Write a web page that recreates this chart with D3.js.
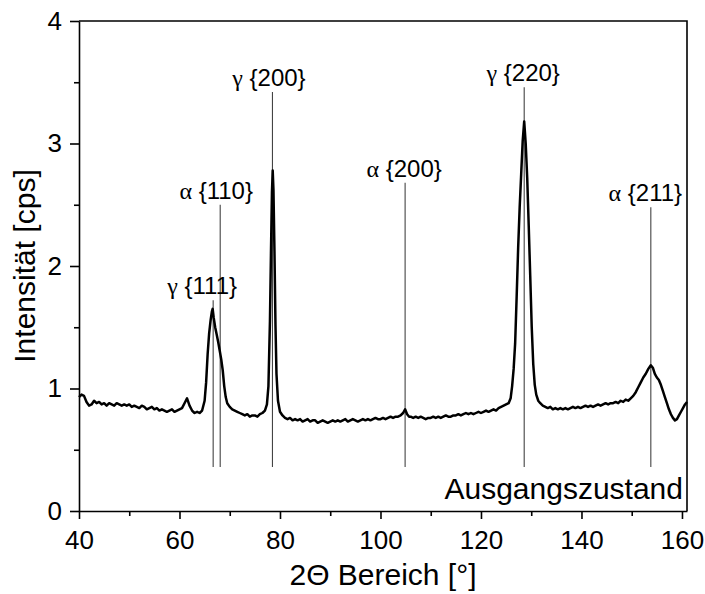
<!DOCTYPE html>
<html>
<head>
<meta charset="utf-8">
<script src="https://cdn.jsdelivr.net/npm/d3@7"></script>
<style>
  body { margin: 0; background: #fff; }
  svg text { font-family: "Liberation Sans", Arial, sans-serif; fill: #000; }
</style>
</head>
<body>
<svg id="chart" width="705" height="594"></svg>
<script>
"use strict";

// 2theta (deg) and intensity (cps)
let twoTheta = [
  40.0, 40.5, 41.0, 41.5, 42.0, 42.5, 43.0, 43.5, 44.0, 44.5, 45.0, 45.5, 46.0, 46.5, 47.0, 47.5,
  48.0, 48.5, 49.0, 49.5, 50.0, 50.5, 51.0, 51.5, 52.0, 52.5, 53.0, 53.5, 54.0, 54.5, 55.0, 55.5,
  56.0, 56.5, 57.0, 57.5, 58.0, 58.5, 59.0, 59.5, 60.0, 60.5, 61.0, 61.5, 62.0, 62.5, 63.0, 63.5,
  64.0, 64.5, 65.0, 65.3, 65.6, 65.9, 66.2, 66.45, 66.6, 66.8, 67.1, 67.4, 67.7, 68.0, 68.3, 68.6,
  68.9, 69.2, 69.5, 70.0, 70.5, 71.0, 71.5, 72.0, 72.5, 73.0, 73.5, 74.0, 74.5, 75.0, 75.5, 76.0,
  76.5, 77.0, 77.4, 77.7, 78.0, 78.2, 78.4, 78.55, 78.7, 78.9, 79.1, 79.3, 79.6, 80.0, 80.5, 81.0,
  81.5, 82.0, 82.5, 83.0, 83.5, 84.0, 84.5, 85.0, 85.5, 86.0, 86.5, 87.0, 87.5, 88.0, 88.5, 89.0,
  89.5, 90.0, 90.5, 91.0, 91.5, 92.0, 92.5, 93.0, 93.5, 94.0, 94.5, 95.0, 95.5, 96.0, 96.5, 97.0,
  97.5, 98.0, 98.5, 99.0, 99.5, 100.0, 100.5, 101.0, 101.5, 102.0, 102.5, 103.0, 103.5, 104.0, 104.5, 104.9,
  105.3, 105.7, 106.0, 106.5, 107.0, 107.5, 108.0, 108.5, 109.0, 109.5, 110.0, 110.5, 111.0, 111.5, 112.0, 112.5,
  113.0, 113.5, 114.0, 114.5, 115.0, 115.5, 116.0, 116.5, 117.0, 117.5, 118.0, 118.5, 119.0, 119.5, 120.0, 120.5,
  121.0, 121.5, 122.0, 122.5, 123.0, 123.5, 124.0, 124.5, 125.0, 125.5, 125.9, 126.2, 126.5, 126.8, 127.1, 127.4,
  127.7, 128.0, 128.3, 128.6, 128.9, 129.2, 129.5, 129.8, 130.1, 130.4, 130.7, 131.0, 131.4, 131.8, 132.3, 132.8,
  133.3, 133.8, 134.3, 134.8, 135.3, 135.8, 136.3, 136.8, 137.3, 137.8, 138.3, 138.8, 139.3, 139.8, 140.3, 140.8,
  141.3, 141.8, 142.3, 142.8, 143.3, 143.8, 144.3, 144.8, 145.3, 145.8, 146.3, 146.8, 147.3, 147.8, 148.3, 148.8,
  149.3, 149.8, 150.3, 150.8, 151.3, 151.8, 152.3, 152.8, 153.3, 153.8, 154.2, 154.6, 155.0, 155.4, 155.8, 156.2,
  156.6, 157.0, 157.4, 157.8, 158.2, 158.6, 159.0, 159.4, 159.8, 160.2, 160.6, 161.0
];

let intensity = [
  0.93, 0.95, 0.94, 0.89, 0.86, 0.87, 0.90, 0.88, 0.89, 0.87, 0.88, 0.86, 0.88, 0.87, 0.86, 0.88,
  0.87, 0.86, 0.87, 0.86, 0.87, 0.85, 0.86, 0.85, 0.84, 0.86, 0.85, 0.83, 0.84, 0.85, 0.83, 0.84,
  0.82, 0.83, 0.82, 0.81, 0.82, 0.83, 0.81, 0.82, 0.83, 0.84, 0.88, 0.92, 0.86, 0.82, 0.80, 0.81,
  0.80, 0.82, 0.90, 1.05, 1.28, 1.45, 1.56, 1.63, 1.65, 1.58, 1.50, 1.44, 1.38, 1.31, 1.24, 1.15,
  1.02, 0.93, 0.88, 0.85, 0.83, 0.82, 0.81, 0.80, 0.79, 0.78, 0.79, 0.77, 0.78, 0.78, 0.77, 0.79,
  0.80, 0.82, 0.87, 1.02, 1.55, 2.10, 2.60, 2.78, 2.62, 2.12, 1.52, 1.12, 0.90, 0.81, 0.78, 0.76,
  0.75, 0.76, 0.74, 0.75, 0.74, 0.75, 0.73, 0.74, 0.75, 0.73, 0.74, 0.74, 0.72, 0.73, 0.74, 0.73,
  0.72, 0.73, 0.74, 0.73, 0.74, 0.73, 0.74, 0.75, 0.73, 0.74, 0.75, 0.74, 0.73, 0.74, 0.75, 0.74,
  0.75, 0.74, 0.75, 0.76, 0.75, 0.75, 0.76, 0.75, 0.76, 0.77, 0.76, 0.77, 0.77, 0.78, 0.80, 0.83,
  0.79, 0.77, 0.77, 0.76, 0.77, 0.76, 0.77, 0.76, 0.75, 0.76, 0.76, 0.77, 0.76, 0.77, 0.76, 0.77,
  0.78, 0.77, 0.77, 0.78, 0.78, 0.79, 0.78, 0.79, 0.80, 0.79, 0.80, 0.79, 0.80, 0.81, 0.80, 0.81,
  0.82, 0.81, 0.82, 0.83, 0.82, 0.84, 0.85, 0.86, 0.87, 0.88, 0.92, 1.02, 1.16, 1.37, 1.75, 2.15,
  2.48, 2.75, 3.02, 3.18, 3.00, 2.72, 2.33, 1.92, 1.50, 1.20, 1.03, 0.95, 0.90, 0.88, 0.86, 0.85,
  0.84, 0.85, 0.83, 0.84, 0.83, 0.84, 0.83, 0.84, 0.83, 0.84, 0.85, 0.84, 0.85, 0.84, 0.85, 0.86,
  0.85, 0.86, 0.85, 0.86, 0.87, 0.86, 0.87, 0.88, 0.87, 0.88, 0.88, 0.89, 0.88, 0.90, 0.89, 0.91,
  0.90, 0.92, 0.94, 0.97, 1.01, 1.05, 1.09, 1.12, 1.16, 1.19, 1.17, 1.12, 1.09, 1.07, 1.03, 0.98,
  0.93, 0.88, 0.83, 0.79, 0.76, 0.74, 0.75, 0.78, 0.81, 0.84, 0.87, 0.89
];

// reflection markers: phase letter, plane, position, top of marker line, label centre
let phase   = ["γ", "α", "γ", "α", "γ", "α"];
let planes  = ["{111}", "{110}", "{200}", "{200}", "{220}", "{211}"];
let peakPos = [66.7, 68.1, 78.5, 104.9, 128.6, 153.8];
let lineTop = [1.72, 2.50, 3.42, 2.68, 3.46, 2.48];
let labelAt = [64.5, 67.3, 77.8, 104.7, 128.4, 152.7];
let lineBottom = 0.36;

let xTicks = [40, 60, 80, 100, 120, 140, 160];
let yTicks = [0, 1, 2, 3, 4];

let margin = { left: 79, right: 18, top: 21, bottom: 83 };
let width = 705, height = 594;

let svg = d3.select("#chart");

let x = d3.scaleLinear().domain([40, 161]).range([margin.left, width - margin.right]);
let y = d3.scaleLinear().domain([0, 4]).range([height - margin.bottom, margin.top]);

// minor ticks
let xMinor = d3.range(50, 161, 20);
let yMinor = d3.range(0.5, 4, 1);

let xMinorG = svg.append("g")
  .attr("transform", `translate(0,${y(0)})`)
  .call(d3.axisBottom(x).tickValues(xMinor).tickSize(5).tickFormat(""));
xMinorG.select(".domain").remove();
let xMajor = svg.append("g")
  .attr("transform", `translate(0,${y(0)})`)
  .call(d3.axisBottom(x).tickValues(xTicks).tickSize(8).tickPadding(12).tickSizeOuter(0));

let yMinorG = svg.append("g")
  .attr("transform", `translate(${x(40)},0)`)
  .call(d3.axisLeft(y).tickValues(yMinor).tickSize(5).tickFormat(""));
yMinorG.select(".domain").remove();
let yMajor = svg.append("g")
  .attr("transform", `translate(${x(40)},0)`)
  .call(d3.axisLeft(y).tickValues(yTicks).tickFormat(d3.format("d")).tickSize(9).tickPadding(8).tickSizeOuter(0));

svg.selectAll(".tick line").attr("stroke", "#000").attr("stroke-width", 1.6);
svg.selectAll(".domain").attr("stroke", "#000").attr("stroke-width", 1.6);
xMajor.attr("font-size", 26).attr("font-family", null);
yMajor.attr("font-size", 26).attr("font-family", null);

// top and right frame
svg.append("path")
  .attr("d", `M${x(40)},${y(4)}H${x(161)}V${y(0)}`)
  .attr("fill", "none")
  .attr("stroke", "#000")
  .attr("stroke-width", 1.6);

// marker lines
let peaks = peakPos.map((p, i) => ({ pos: p, top: lineTop[i], label: labelAt[i], ph: phase[i], hkl: planes[i] }));

svg.append("g").selectAll("line").data(peaks).enter()
  .append("line")
  .attr("x1", d => x(d.pos)).attr("x2", d => x(d.pos))
  .attr("y1", y(lineBottom))
  .attr("y2", d => y(d.top))
  .attr("stroke", "#444")
  .attr("stroke-width", 1.1);

// scan curve
let scan = twoTheta.map((t, i) => [t, intensity[i]]);
svg.append("path")
  .datum(scan)
  .attr("fill", "none")
  .attr("stroke", "#000")
  .attr("stroke-width", 2.5)
  .attr("stroke-linejoin", "round")
  .attr("d", d3.line().x(d => x(d[0])).y(d => y(d[1])));

// peak labels
let lab = svg.append("g").selectAll("text").data(peaks).enter()
  .append("text")
  .attr("x", d => x(d.label))
  .attr("y", d => y(d.top) - 6)
  .attr("text-anchor", "middle")
  .attr("font-size", 24);
lab.append("tspan").attr("font-family", "Liberation Serif, Times New Roman, serif").text(d => d.ph);
lab.append("tspan").text(d => " " + d.hkl);

svg.append("text")
  .attr("x", x(161) - 4)
  .attr("y", y(0) - 12)
  .attr("text-anchor", "end")
  .attr("font-size", 30)
  .text("Ausgangszustand");

// axis titles
svg.append("text")
  .attr("x", (x(40) + x(161)) / 2)
  .attr("y", 585)
  .attr("text-anchor", "middle")
  .attr("font-size", 30)
  .text("2Θ Bereich [°]");

svg.append("text")
  .attr("transform", `translate(35,${(y(0) + y(4)) / 2}) rotate(-90)`)
  .attr("text-anchor", "middle")
  .attr("font-size", 30)
  .text("Intensität [cps]");
</script>
</body>
</html>
